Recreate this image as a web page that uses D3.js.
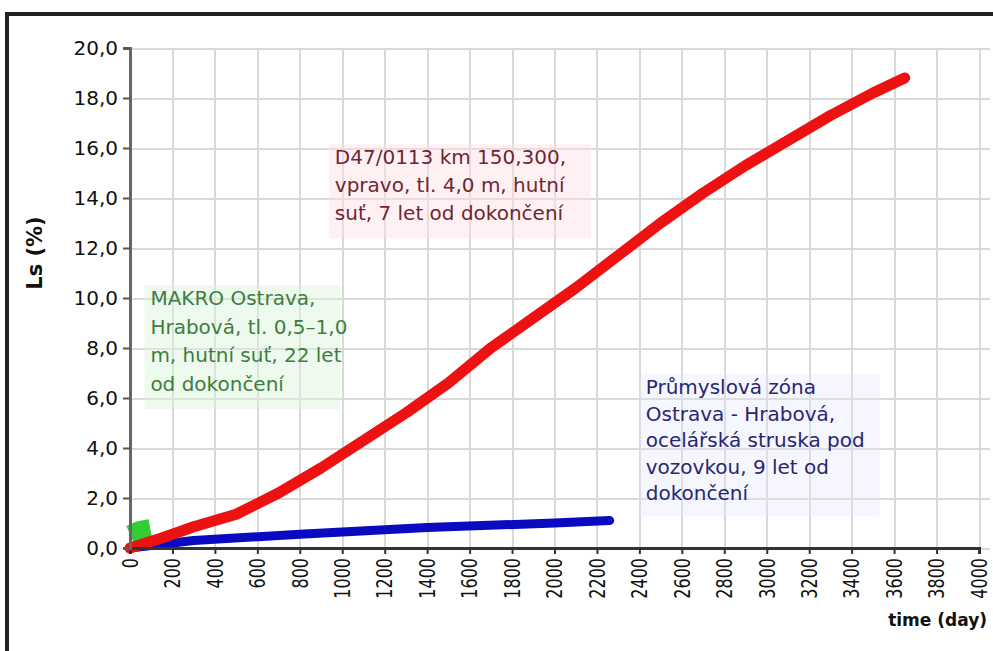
<!DOCTYPE html>
<meta charset="utf-8">
<style>

    body {
        margin: 0;
        background: #fff;
        font-family: "DejaVu Sans", Arial, sans-serif;
    }

    .grid line {
        stroke: #d9d9d9;
        stroke-width: 2px;
        shape-rendering: crispEdges;
    }

    .grid path {
        stroke-width: 0;
    }

    .line {
        fill: none;
        stroke-linejoin: round;
    }

</style>

<svg width="993" height="651"></svg>

<script src="https://cdn.jsdelivr.net/npm/d3@7/dist/d3.min.js"></script>
<script>

    // red series: D47 km 150,300
    var redDays   = [0, 150, 300, 500, 700, 900, 1100, 1300, 1500, 1700, 1900, 2100, 2300, 2500, 2700, 2900, 3100, 3300, 3500, 3650];
    var redValues = [0, 0.4, 0.85, 1.35, 2.2, 3.2, 4.3, 5.4, 6.6, 8.0, 9.2, 10.4, 11.7, 13.0, 14.2, 15.3, 16.3, 17.3, 18.2, 18.8];

    // blue series: Prumyslova zona
    var blueDays   = [0, 300, 800, 1400, 2000, 2260];
    var blueValues = [0, 0.3, 0.55, 0.82, 1.0, 1.1];

    // green series: MAKRO
    var greenDays   = [0, 45, 95];
    var greenValues = [0.55, 0.72, 0.8];

    var xTicks = [0, 200, 400, 600, 800, 1000, 1200, 1400, 1600, 1800, 2000, 2200, 2400, 2600, 2800, 3000, 3200, 3400, 3600, 3800, 4000];
    var yTicks = [0, 2, 4, 6, 8, 10, 12, 14, 16, 18, 20];

    var redText   = ["D47/0113 km 150,300,", "vpravo, tl. 4,0 m, hutní", "suť, 7 let od dokončení"];
    var greenText = ["MAKRO Ostrava,", "Hrabová, tl. 0,5–1,0", "m, hutní suť, 22 let", "od dokončení"];
    var blueText  = ["Průmyslová zóna", "Ostrava - Hrabová,", "ocelářská struska pod", "vozovkou, 9 let od", "dokončení"];

    var svg = d3.select("svg"),
            margin = {top: 48, right: 3, bottom: 103, left: 130},
            width = svg.attr("width") - margin.left - margin.right,
            height = svg.attr("height") - margin.top - margin.bottom,
            g = svg.append("g").attr("transform", "translate(" + margin.left + "," + margin.top + ")");

    // frame of the original picture
    svg.append("path")
            .attr("d", "M7,651 V14 H993")
            .attr("fill", "none")
            .attr("stroke", "#222")
            .attr("stroke-width", 4);

    var x = d3.scaleLinear().domain([0, 4000]).range([0, width - 11]),
        y = d3.scaleLinear().domain([0, 20]).range([height, 0]);

    var fmt = function(d) { return d3.format(".1f")(d).replace(".", ","); };

    // gridlines
    g.append("g")
        .attr("class", "grid")
        .attr("transform", "translate(0," + height + ")")
        .call(d3.axisBottom(x).tickValues(xTicks).tickSize(-height).tickFormat(""));

    g.append("g")
        .attr("class", "grid")
        .call(d3.axisLeft(y).tickValues(yTicks).tickSize(-width).tickFormat(""));

    // annotation boxes
    function note(lines, day, val, lh, color, bg, box) {
        var t = g.append("g");
        t.append("rect")
                .attr("x", x(day) - 6)
                .attr("y", y(val) - 20)
                .attr("width", box)
                .attr("height", lines.length * lh + 10)
                .attr("fill", bg);
        t.selectAll("text")
                .data(lines)
                .enter().append("text")
                .attr("x", x(day))
                .attr("y", function(d, i) { return y(val) + i * lh; })
                .style("font-size", "20px")
                .attr("fill", color)
                .text(function(d) { return d; });
    }

    note(redText, 965, 15.35, 28, "#6e2730", "rgba(255,225,228,0.45)", 262);
    note(greenText, 96, 9.72, 28.5, "#3f7d3f", "rgba(215,245,215,0.45)", 196);
    note(blueText, 2430, 6.16, 26.5, "#27276f", "rgba(228,228,255,0.35)", 240);

    // data lines
    var line = d3.line()
            .x(function(d) { return x(d[0]); })
            .y(function(d) { return y(d[1]); });

    var series = [
        {name: "green", color: "#33cc33", w: 18, pts: d3.zip(greenDays, greenValues)},
        {name: "blue", color: "#0a0ac0", w: 9, pts: d3.zip(blueDays, blueValues)},
        {name: "red", color: "#ee1111", w: 11, pts: d3.zip(redDays, redValues)}
    ];

    g.selectAll(".series")
            .data(series)
            .enter().append("path")
            .attr("class", "line")
            .attr("d", function(d) { return line(d.pts); })
            .style("stroke", function(d) { return d.color; })
            .style("stroke-width", function(d) { return d.w; })
            .style("stroke-linecap", function(d) { return d.name == "green" ? "butt" : "round"; });

    // x axis
    var xAxis = g.append("g")
            .attr("transform", "translate(0," + height + ")")
            .call(d3.axisBottom(x).tickValues(xTicks).tickSize(6).tickFormat(d3.format("d")));
    xAxis.select(".domain").attr("stroke", "#333").attr("stroke-width", 3);
    xAxis.selectAll(".tick line").attr("stroke", "#333").attr("stroke-width", 2);
    xAxis.selectAll("text")
            .attr("transform", "rotate(-90) scale(1,1.3)")
            .attr("x", -10)
            .attr("y", 0)
            .attr("dy", "0.35em")
            .style("text-anchor", "end")
            .style("font-size", "16px")
            .style("font-family", "DejaVu Sans")
            .attr("fill", "#111");

    // y axis
    var yAxis = g.append("g")
            .call(d3.axisLeft(y).tickValues(yTicks).tickSize(7).tickPadding(5).tickFormat(fmt));
    yAxis.select(".domain").attr("stroke", "#666").attr("stroke-width", 3);
    yAxis.selectAll(".tick line").attr("stroke", "#555").attr("stroke-width", 2);
    yAxis.selectAll("text")
            .style("font-size", "20px")
            .style("font-family", "DejaVu Sans")
            .attr("fill", "#111");

    // axis titles
    g.append("text")
            .attr("transform", "translate(" + (-88) + "," + (y(12) + 5) + ") rotate(-90)")
            .style("text-anchor", "middle")
            .style("font-size", "21px")
            .style("font-weight", "bold")
            .attr("fill", "#111")
            .text("Ls (%)");

    g.append("text")
            .attr("x", width - 3)
            .attr("y", height + 78)
            .style("text-anchor", "end")
            .style("font-size", "17px")
            .style("font-weight", "bold")
            .attr("fill", "#111")
            .text("time (day)");

</script>
